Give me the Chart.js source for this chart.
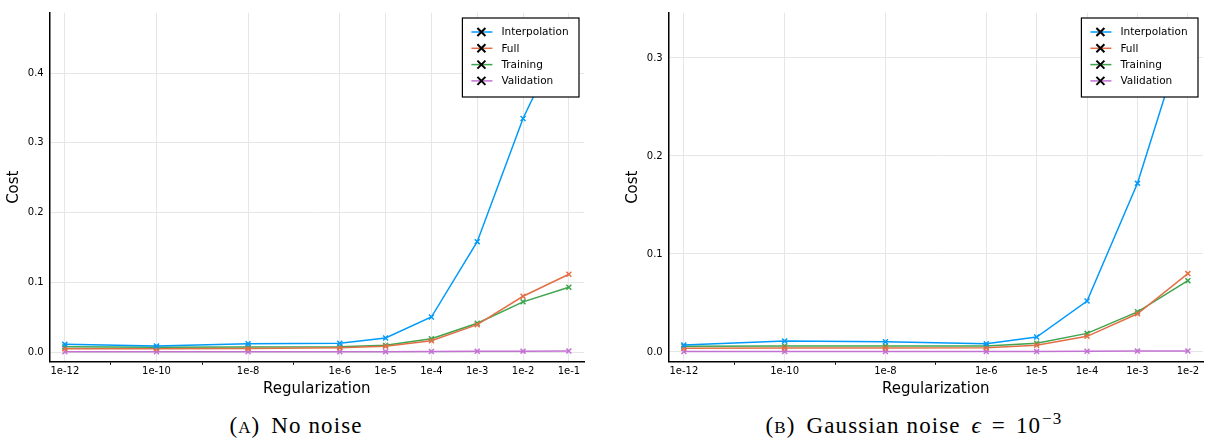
<!DOCTYPE html>
<html>
<head>
<meta charset="utf-8">
<script src="https://cdn.jsdelivr.net/npm/chart.js@4.4.0/dist/chart.umd.min.js"></script>
<style>
  html, body { margin: 0; padding: 0; background: #fff; }
  body { width: 1206px; height: 438px; position: relative; overflow: hidden; }
  canvas.panel { position: absolute; top: 0; }
  .caption {
    position: absolute; top: 415px; line-height: 22px;
    font-family: "Liberation Serif", serif; font-size: 23px; letter-spacing: 1.1px; color: #000;
    white-space: nowrap; transform: translateX(-50%);
  }
  .sc { font-size: 17px; }
  .gap { margin-left: 11px; }
  .eps { margin-left: 4px; }
  .op { margin: 0 10px; }
  .sup { font-size: 17px; position: relative; top: -9px; margin-left: 1px; }
</style>
</head>
<body>
<canvas id="chartA" class="panel" width="600" height="400" style="left:0"></canvas>
<canvas id="chartB" class="panel" width="606" height="400" style="left:600px"></canvas>
<div class="caption" style="left:296px">(<span class="sc">A</span>)<span class="gap">No noise</span></div>
<div class="caption" style="left:914px">(<span class="sc">B</span>)<span class="gap">Gaussian noise</span><i class="eps"> ϵ</i><span class="op">=</span>10<span class="sup">−3</span></div>

<script>
// ─── Data ────────────────────────────────────────
const seriesNames  = ["Interpolation", "Full", "Training", "Validation"];
const seriesColors = ["#009AFA", "#E36F47", "#3EA44E", "#C371D2"];

// regularisation strengths
const regsA = [1e-12, 1e-10, 1e-8, 1e-6, 1e-5, 1e-4, 1e-3, 1e-2, 1e-1];
const regsB = [1e-12, 1e-10, 1e-8, 1e-6, 1e-5, 1e-4, 1e-3, 1e-2];
const xLabelsA = ["1e-12", "1e-10", "1e-8", "1e-6", "1e-5", "1e-4", "1e-3", "1e-2", "1e-1"];
const xLabelsB = ["1e-12", "1e-10", "1e-8", "1e-6", "1e-5", "1e-4", "1e-3", "1e-2"];
const yTicksA = [0.0, 0.1, 0.2, 0.3, 0.4];
const yTicksB = [0.0, 0.1, 0.2, 0.3];

// (A) no noise
const interpA = [0.0110, 0.0086, 0.0118, 0.0125, 0.0201, 0.0502, 0.1583, 0.3350, 0.4730];
const fullA   = [0.0047, 0.0046, 0.0050, 0.0062, 0.0082, 0.0162, 0.0392, 0.0800, 0.1115];
const trainA  = [0.0076, 0.0068, 0.0072, 0.0076, 0.0096, 0.0191, 0.0412, 0.0720, 0.0930];
const validA  = [0.0004, 0.0004, 0.0004, 0.0004, 0.0005, 0.0008, 0.0010, 0.0012, 0.0014];

// (B) gaussian noise 1e-3
const interpB = [0.0071, 0.0112, 0.0105, 0.0083, 0.0153, 0.0520, 0.1721, 0.3360];
const fullB   = [0.0038, 0.0040, 0.0040, 0.0044, 0.0068, 0.0160, 0.0390, 0.0800];
const trainB  = [0.0058, 0.0061, 0.0060, 0.0060, 0.0089, 0.0190, 0.0410, 0.0728];
const validB  = [0.0004, 0.0004, 0.0004, 0.0004, 0.0004, 0.0007, 0.0009, 0.0010];

// ─── Style ───────────────────────────────────────
const FONT = "DejaVu Sans";
const GRID = "#e6e6e6";
const NONE = "rgba(0,0,0,0)";

// legend drawn inside the plot, top right corner
const insetLegend = {
  id: "insetLegend",
  afterDraw(chart) {
    const { ctx, chartArea } = chart;
    const w = 116.6, h = 79, rowH = 16.3;
    const left = chartArea.right - 5 - w;
    const top = chartArea.top + 5.3;
    ctx.save();
    ctx.fillStyle = "#fff";
    ctx.fillRect(left, top, w, h);
    ctx.strokeStyle = "#000";
    ctx.lineWidth = 1.2;
    ctx.strokeRect(left, top, w, h);
    ctx.font = `10.5px "${FONT}"`;
    ctx.textBaseline = "middle";
    chart.data.datasets.forEach((ds, i) => {
      const y = top + 14 + i * rowH;
      const mx = left + 19;
      ctx.strokeStyle = ds.borderColor;
      ctx.lineWidth = 1.5;
      ctx.beginPath();
      ctx.moveTo(left + 9, y);
      ctx.lineTo(left + 30, y);
      ctx.stroke();
      ctx.strokeStyle = "#000";
      ctx.lineWidth = 2;
      ctx.beginPath();
      ctx.moveTo(mx - 4, y - 4); ctx.lineTo(mx + 4, y + 4);
      ctx.moveTo(mx - 4, y + 4); ctx.lineTo(mx + 4, y - 4);
      ctx.stroke();
      ctx.fillStyle = "#000";
      ctx.fillText(ds.label, left + 39, y + 0.5);
    });
    ctx.restore();
  }
};

function makeChart(id, regs, xLabels, yTicks, values, opt) {
  const labelByExp = {};
  regs.forEach((r, i) => { labelByExp[Math.round(Math.log10(r))] = xLabels[i]; });
  const exps = Object.keys(labelByExp).map(Number);
  const lo = Math.min(...exps), hi = Math.max(...exps);
  const decades = [];
  for (let k = lo; k <= hi; k++) decades.push(Math.pow(10, k));
  const isMajor = v => labelByExp[Math.round(Math.log10(v))] !== undefined;

  const datasets = values.map((vals, s) => ({
    label: seriesNames[s],
    data: vals.map((y, i) => ({ x: regs[i], y })),
    borderColor: seriesColors[s],
    backgroundColor: seriesColors[s],
    borderWidth: 1.5,
    pointStyle: "crossRot",
    pointRadius: 3.5,
    pointBorderWidth: 1.5,
    tension: 0
  }));

  return new Chart(document.getElementById(id), {
    type: "line",
    data: { datasets },
    plugins: [insetLegend],
    options: {
      responsive: false,
      animation: false,
      devicePixelRatio: 1,
      // fixed margins, no extra room for the point markers
      layout: { autoPadding: false, padding: { top: 12.7, right: opt.padRight, left: 0, bottom: 0 } },
      plugins: { legend: { display: false }, tooltip: { enabled: false } },
      scales: {
        x: {
          type: "logarithmic",
          min: opt.xMin, max: opt.xMax,
          afterBuildTicks: axis => { axis.ticks = decades.map(v => ({ value: v })); },
          afterFit: axis => {
            axis.height = 38.3;
            axis.paddingLeft = 0;
            axis.paddingRight = 0;
          },
          ticks: {
            autoSkip: false, maxRotation: 0, padding: 1,
            color: "#000", font: { family: FONT, size: 10 },
            callback: v => labelByExp[Math.round(Math.log10(v))] || ""
          },
          grid: {
            color: c => isMajor(c.tick.value) ? GRID : NONE,
            tickColor: c => isMajor(c.tick.value) ? NONE : "#000",
            tickLength: 3, lineWidth: 1
          },
          border: { display: true, color: "#000", width: 1.5 },
          title: {
            display: true, text: "Regularization", color: "#000",
            font: { family: FONT, size: 15 }, padding: { top: 0, bottom: 2 }
          }
        },
        y: {
          min: opt.yMin, max: opt.yMax,
          afterBuildTicks: axis => { axis.ticks = yTicks.map(v => ({ value: v })); },
          afterFit: axis => {
            axis.width = opt.yWidth;
            axis.paddingTop = 0;
            axis.paddingBottom = 0;
          },
          ticks: {
            padding: 6, color: "#000", font: { family: FONT, size: 10 },
            callback: v => Number(v).toFixed(1)
          },
          grid: { color: GRID, lineWidth: 1, drawTicks: false },
          border: { display: true, color: "#000", width: 1.5 },
          title: {
            display: true, text: "Cost", color: "#000",
            font: { family: FONT, size: 15 }, padding: { top: opt.yTitlePad, bottom: 0 }
          }
        }
      }
    }
  });
}

makeChart("chartA", regsA, xLabelsA, yTicksA, [interpA, fullA, trainA, validA], {
  xMin: Math.pow(10, -12.33), xMax: Math.pow(10, -0.67),
  yMin: -0.0139, yMax: 0.4868, yWidth: 49.7, yTitlePad: 5, padRight: 16
});
makeChart("chartB", regsB, xLabelsB, yTicksB, [interpB, fullB, trainB, validB], {
  xMin: Math.pow(10, -12.3), xMax: Math.pow(10, -1.7),
  yMin: -0.0099, yMax: 0.3462, yWidth: 68.7, yTitlePad: 24, padRight: 3
});
</script>
</body>
</html>
